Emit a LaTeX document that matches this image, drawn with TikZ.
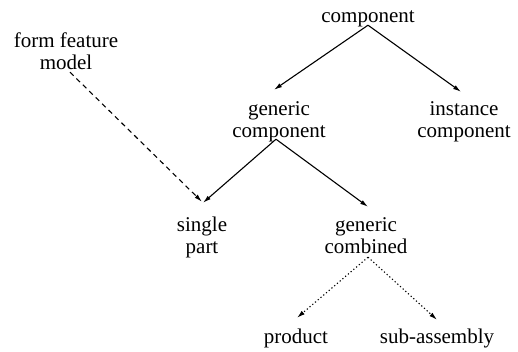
\documentclass[tikz,border=0pt]{standalone}
\usepackage{fontspec}
\setmainfont{Liberation Serif}
\usetikzlibrary{arrows.meta}
\newcommand{\twoline}[2]{\strut #1\\\strut #2}
\tikzset{
  x=1pt, y=-1pt,
  lbl/.style={inner sep=0pt, align=center, font=\fontsize{21}{22}\selectfont},
  isa/.style={line width=1.1pt, -{Latex[length=8pt,width=4.5pt]}},
  feat/.style={isa, dash pattern=on 5pt off 4pt},
  kind/.style={isa, dash pattern=on 1.2pt off 2.4pt},
}
\begin{document}
\begin{tikzpicture}
\useasboundingbox (0,0) rectangle (518,351);
% class hierarchy labels
\node[lbl] (comp)  at (368,17.6)  {\strut component};
\node[lbl] (gen)   at (279,121.6) {\twoline{generic}{component}};
\node[lbl] (inst)  at (464,121.6) {\twoline{instance}{component}};
\node[lbl] (ffm)   at (66,53.6)   {\twoline{form feature}{model}};
\node[lbl] (single) at (202,237.6) {\twoline{single}{part}};
\node[lbl] (comb)  at (366,237.6) {\twoline{generic}{combined}};
\node[lbl] (prod)  at (296,338.6) {\strut product};
\node[lbl] (sub)   at (437,338.6) {\strut sub-assembly};
% specialisation links
\draw[isa] ([yshift=3.6pt]comp.south) -- ([xshift=-5pt,yshift=9.6pt]gen.north);
\draw[isa] ([yshift=3.6pt]comp.south) -- ([xshift=-3pt,yshift=7.6pt]inst.north);
\draw[isa] ([xshift=-3pt,yshift=4.6pt]gen.south) -- ([xshift=1pt,yshift=12.6pt]single.north);
\draw[isa] ([xshift=-3pt,yshift=4.6pt]gen.south) -- ([xshift=2pt,yshift=8.6pt]comb.north);
% form feature model attaches to single parts
\draw[feat] ([xshift=4pt,yshift=3.6pt]ffm.south) -- ([yshift=13.6pt]single.north);
% kinds of combined components
\draw[kind] ([xshift=2pt,yshift=2.6pt]comb.south) -- ([xshift=1pt,yshift=9.6pt]prod.north);
\draw[kind] ([xshift=2pt,yshift=2.6pt]comb.south) -- ([yshift=7.6pt]sub.north);
\end{tikzpicture}
\end{document}
